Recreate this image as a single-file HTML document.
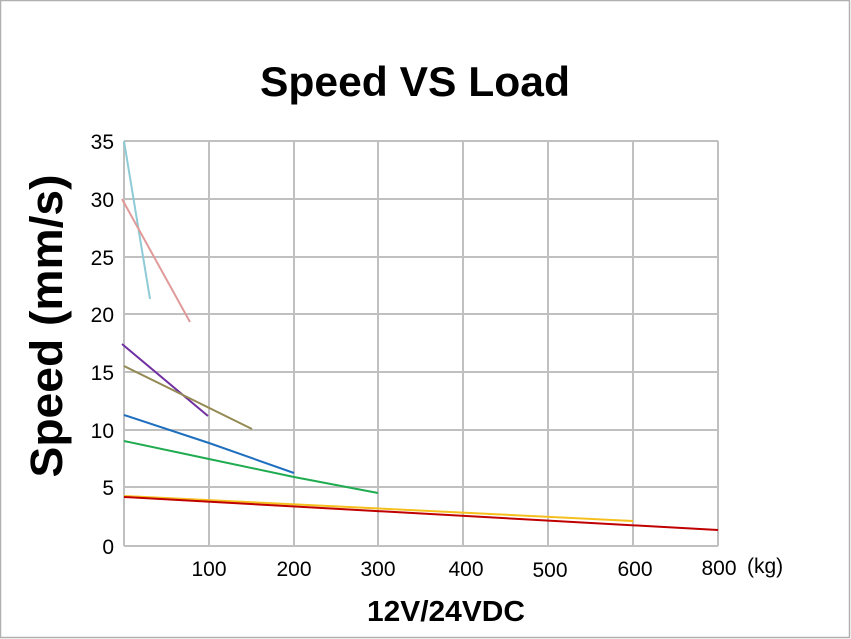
<!DOCTYPE html>
<html><head><meta charset="utf-8"><style>
html,body{margin:0;padding:0;background:#fff;}
svg{display:block;}
text{font-family:"Liberation Sans",Arial,sans-serif;fill:#000;}
</style></head><body>
<svg width="851" height="639" viewBox="0 0 851 639" xmlns="http://www.w3.org/2000/svg">
<rect x="0.5" y="0.5" width="849" height="637" fill="#fff" stroke="#b0b0b0" stroke-width="1.5"/>
<text x="415" y="96" font-size="42" font-weight="bold" text-anchor="middle" textLength="310" lengthAdjust="spacingAndGlyphs">Speed VS Load</text>
<g stroke="#c0c0c0" stroke-width="2" fill="none">
<line x1="124" y1="141" x2="718" y2="141"/>
<line x1="124" y1="199" x2="718" y2="199"/>
<line x1="124" y1="257" x2="718" y2="257"/>
<line x1="124" y1="314" x2="718" y2="314"/>
<line x1="124" y1="372" x2="718" y2="372"/>
<line x1="124" y1="430" x2="718" y2="430"/>
<line x1="124" y1="487" x2="718" y2="487"/>
<line x1="124" y1="546" x2="718" y2="546"/>
<line x1="124" y1="141" x2="124" y2="546"/>
<line x1="209" y1="141" x2="209" y2="546"/>
<line x1="294" y1="141" x2="294" y2="546"/>
<line x1="378" y1="141" x2="378" y2="546"/>
<line x1="463" y1="141" x2="463" y2="546"/>
<line x1="548" y1="141" x2="548" y2="546"/>
<line x1="633" y1="141" x2="633" y2="546"/>
<line x1="718" y1="141" x2="718" y2="546"/>
</g>
<g font-size="21" text-anchor="end">
<text x="114" y="149">35</text>
<text x="114" y="207">30</text>
<text x="114" y="265">25</text>
<text x="114" y="322">20</text>
<text x="114" y="380">15</text>
<text x="114" y="438">10</text>
<text x="114" y="495">5</text>
<text x="114" y="554">0</text>
</g>
<g font-size="21" text-anchor="middle">
<text x="209" y="576">100</text>
<text x="294" y="576">200</text>
<text x="378" y="576">300</text>
<text x="466" y="576">400</text>
<text x="550" y="577">500</text>
<text x="635" y="576">600</text>
<text x="719" y="575">800</text>
</g>
<text x="747" y="573" font-size="21">(kg)</text>
<text x="446" y="621" font-size="29" font-weight="bold" text-anchor="middle" textLength="158" lengthAdjust="spacingAndGlyphs">12V/24VDC</text>
<text transform="translate(62,326) rotate(-90)" font-size="45" font-weight="bold" text-anchor="middle" textLength="303" lengthAdjust="spacingAndGlyphs">Speed (mm/s)</text>
<g fill="none" stroke-width="2">
<polyline stroke="#8ecbd6" points="124,141 150,299"/>
<polyline stroke="#e09a9a" points="122,199 190,322"/>
<polyline stroke="#7030a0" points="122,344 208,416"/>
<polyline stroke="#948a54" points="124,366 252,429"/>
<polyline stroke="#1f6fbf" points="124,415 209,443 294,473"/>
<polyline stroke="#1fab4f" points="124,441 209,459 294,477 378,493"/>
<polyline stroke="#f5c01f" points="124,496 633,521"/>
<polyline stroke="#c00000" points="124,497 718,530"/>
</g>
</svg>
</body></html>
